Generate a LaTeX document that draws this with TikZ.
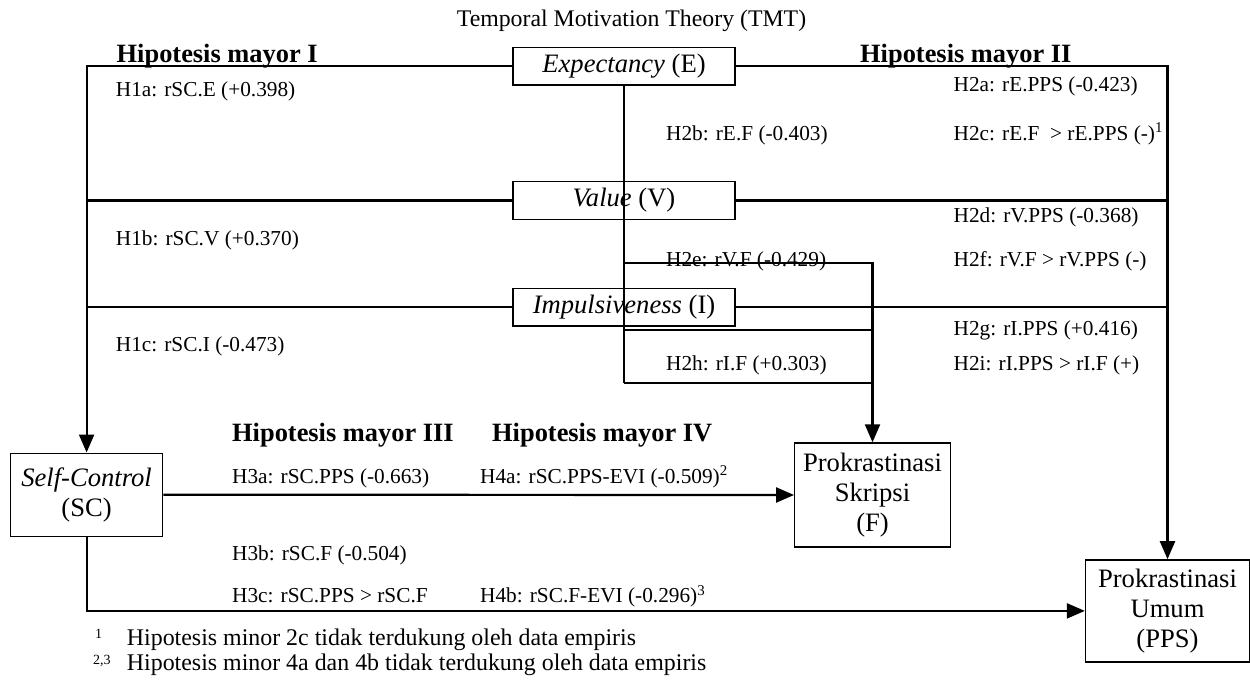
\documentclass[tikz,border=0pt]{standalone}
\usepackage{fontspec}
\setmainfont{Liberation Serif}
\usetikzlibrary{arrows.meta}
\begin{document}
\begin{tikzpicture}[x=1pt,y=-1pt,
  box/.style={draw, line width=1.4pt, align=center, inner sep=0pt, font=\fontsize{26.6}{30}\selectfont},
  lbl/.style={anchor=base west, inner sep=0pt, font=\fontsize{21.3}{25}\selectfont},
  hd/.style={anchor=base west, inner sep=0pt, font=\fontsize{26.4}{30}\selectfont\bfseries},
  note/.style={anchor=base west, inner sep=0pt, font=\fontsize{23.9}{28}\selectfont},
  notemark/.style={anchor=base west, inner sep=0pt, font=\fontsize{14}{16}\selectfont},
  conn/.style={line width=2.2pt},
  arr/.style={conn, -{Triangle[length=18pt,width=15pt]}}]
\useasboundingbox (0,0) rectangle (1250,682);
\node[anchor=base, inner sep=0pt, font=\fontsize{23.8}{28}\selectfont] (title) at (631.5,27) {Temporal Motivation Theory (TMT)};
\node[box, minimum width=222pt, minimum height=37.7pt] (E) at (624,66.2) {\textit{Expectancy} (E)};
\node[box, minimum width=222pt, minimum height=37.7pt] (V) at (624,200.5) {\textit{Value} (V)};
\node[box, minimum width=222pt, minimum height=37.7pt] (I) at (624,307.2) {\textit{Impulsiveness} (I)};
\node[box, minimum width=152pt, minimum height=83pt] (SC) at (86.6,494.7) {\textit{Self-Control}\\(SC)};
\node[box, minimum width=155.5pt, minimum height=104pt] (F) at (872.5,495) {Prokrastinasi\\Skripsi\\(F)};
\node[box, minimum width=164pt, minimum height=102pt] (PPS) at (1167.5,610.9) {Prokrastinasi\\Umum\\(PPS)};
\node[hd] (hm1) at (116.5,62.7) {Hipotesis mayor I};
\node[hd] (hm2) at (860,63) {Hipotesis mayor II};
\node[hd] (hm3) at (232,441.7) {Hipotesis mayor III};
\node[hd] (hm4) at (492,441.7) {Hipotesis mayor IV};
\node[lbl] (h1a) at (115.7,96.7) {H1a: rSC.E (+0.398)};
\node[lbl] (h1b) at (115.7,245) {H1b: rSC.V (+0.370)};
\node[lbl] (h1c) at (115.7,351.7) {H1c: rSC.I (-0.473)};
\node[lbl] (h2a) at (953.5,91.7) {H2a: rE.PPS (-0.423)};
\node[lbl] (h2b) at (666,140) {H2b: rE.F (-0.403)};
\node[lbl] (h2c) at (953.5,140) {H2c: rE.F~ > rE.PPS (-)\textsuperscript{1}};
\node[lbl] (h2d) at (953.5,222.7) {H2d: rV.PPS (-0.368)};
\node[lbl] (h2e) at (666,266.7) {H2e: rV.F (-0.429)};
\node[lbl] (h2f) at (953.5,266.7) {H2f: rV.F > rV.PPS (-)};
\node[lbl] (h2g) at (953.5,335) {H2g: rI.PPS (+0.416)};
\node[lbl] (h2h) at (666,370) {H2h: rI.F (+0.303)};
\node[lbl] (h2i) at (953.5,370) {H2i: rI.PPS > rI.F (+)};
\node[lbl] (h3a) at (232,483.3) {H3a: rSC.PPS (-0.663)};
\node[lbl] (h4a) at (480,483.3) {H4a: rSC.PPS-EVI (-0.509)\textsuperscript{2}};
\node[lbl] (h3b) at (232,560) {H3b: rSC.F (-0.504)};
\node[lbl] (h3c) at (232,602.7) {H3c: rSC.PPS > rSC.F};
\node[lbl] (h4b) at (480,602.7) {H4b: rSC.F-EVI (-0.296)\textsuperscript{3}};
\node[notemark] (fn1mark) at (95,638) {1};
\node[note] (fn1) at (126.7,645) {Hipotesis minor 2c tidak terdukung oleh data empiris};
\node[notemark] (fn2mark) at (93,664) {2,3};
\node[note] (fn2) at (126.7,670) {Hipotesis minor 4a dan 4b tidak terdukung oleh data empiris};
\coordinate (jv) at (624,263.3);
\coordinate (ji) at (624,330);
\coordinate (jb) at (624,383.3);
\draw[arr] (E.west) -| (SC.north);
\draw[conn] (V.west) -- (V.west -| SC.north);
\draw[conn] (I.west) -- (I.west -| SC.north);
\draw[arr] (E.east) -| (PPS.north);
\draw[conn] (V.east) -- (V.east -| PPS.north);
\draw[conn] (I.east) -- (I.east -| PPS.north);
\draw[conn] (E.south) -- (jb);
\draw[arr] (jv) -| (F.north);
\draw[conn] (ji) -- (ji -| F.north);
\draw[conn] (jb) -- (jb -| F.north);
\draw[arr] (SC.east) -- (F.west);
\draw[arr] (SC.south) |- (PPS.west);
\end{tikzpicture}
\end{document}
